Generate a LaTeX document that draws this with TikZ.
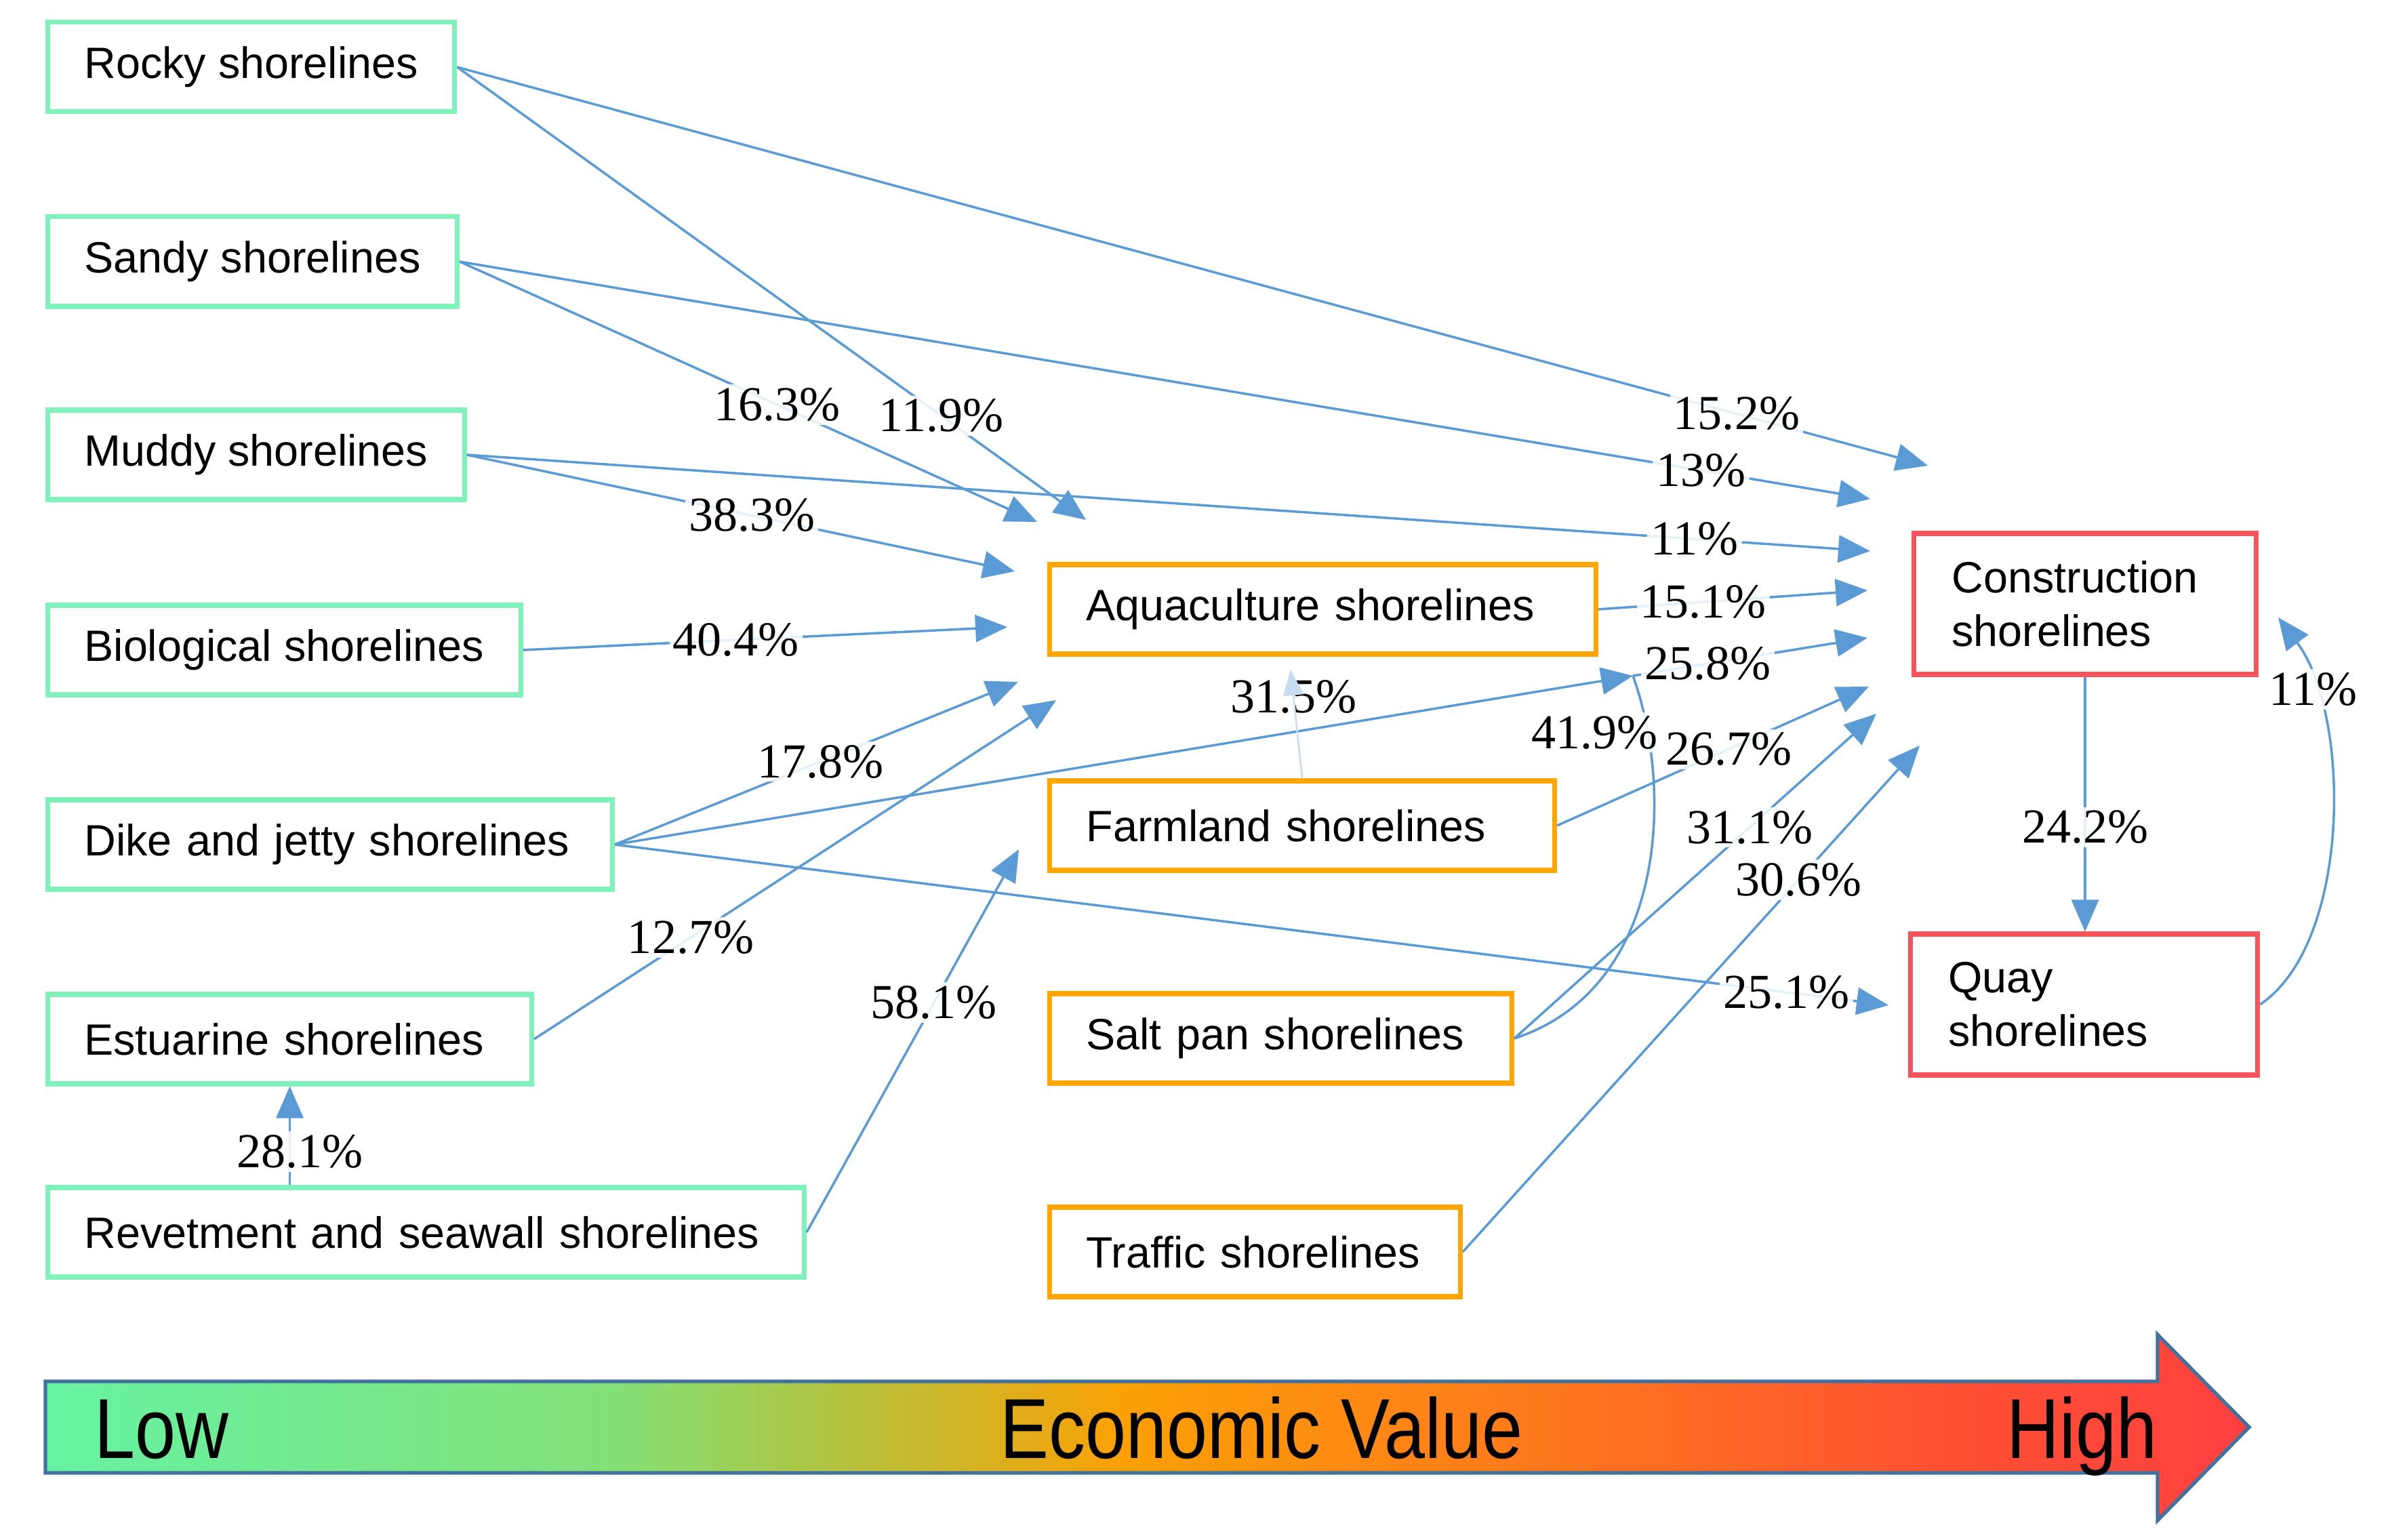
\documentclass[tikz,border=0pt]{standalone}
\usepackage{fontspec}
\setmainfont{Liberation Serif}
\setsansfont{Liberation Sans}
\usepackage{graphicx}
\usetikzlibrary{arrows.meta,calc,positioning}
\definecolor{lowgreen}{HTML}{7FF2B9}
\definecolor{midorange}{HTML}{FFA500}
\definecolor{highred}{HTML}{F5555A}
\definecolor{linkblue}{HTML}{5B9BD5}
\definecolor{barblue}{HTML}{41719C}
\pgfdeclarehorizontalshading{ecovalue}{100bp}{rgb(0bp)=(0.40,0.95,0.64); rgb(25bp)=(0.40,0.95,0.64); rgb(37.8bp)=(0.51,0.88,0.47); rgb(43.2bp)=(0.71,0.76,0.24); rgb(49.4bp)=(0.98,0.63,0.02); rgb(57.8bp)=(1,0.49,0.10); rgb(68.5bp)=(1,0.31,0.20); rgb(75bp)=(1,0.25,0.25); rgb(100bp)=(1,0.25,0.25)}
\newcommand{\ecofont}{\sffamily\fontsize{35.7}{36}\selectfont}
\tikzstyle{shore} = [draw, line width=2pt, fill=white, anchor=west, align=left,
minimum height=1.32cm, inner xsep=0.54cm, font=\sffamily\fontsize{18.4}{22.4}\selectfont]
\tikzstyle{lowbox} = [shore, draw=lowgreen]
\tikzstyle{midbox} = [shore, draw=midorange]
\tikzstyle{highbox} = [shore, draw=highred, minimum height=2.08cm, inner xsep=0.56cm]
\tikzstyle{link} = [line width=1pt, draw=linkblue]
\tikzstyle{arrow} = [link, -{Triangle[length=0.47cm,width=0.40cm]}]
\tikzstyle{palearrow} = [line width=0.7pt, draw=linkblue!35, -{Triangle[length=0.38cm,width=0.30cm]}]
\tikzstyle{pct} = [fill=white, fill opacity=0.85, text opacity=1, inner sep=1.5pt,
font=\fontsize{20.5}{20.5}\selectfont]

\begin{document}
\begin{tikzpicture}
            \useasboundingbox (0,0) rectangle (35.2,22.71);
            % shoreline types, low to high value
            \node[lowbox] (rocky) at (0.67,21.72) {Rocky shorelines};
            \node[lowbox] (sandy) at (0.67,18.85) {Sandy shorelines};
            \node[lowbox] (muddy) at (0.67,16.00) {Muddy shorelines};
            \node[lowbox] (bio) at (0.67,13.12) {Biological shorelines};
            \node[lowbox, text width=7.25cm] (dike) at (0.67,10.25) {Dike and jetty shorelines};
            \node[lowbox, text width=6.06cm] (estu) at (0.67,7.38) {Estuarine shorelines};
            \node[lowbox, text width=10.08cm] (revet) at (0.67,4.53) {Revetment and seawall shorelines};
            \node[midbox, text width=6.98cm] (aqua) at (15.45,13.72) {Aquaculture shorelines};
            \node[midbox, text width=6.37cm] (farm) at (15.45,10.53) {Farmland shorelines};
            \node[midbox, text width=5.74cm] (salt) at (15.45,7.39) {Salt pan shorelines};
            \node[midbox, text width=4.98cm] (traffic) at (15.45,4.24) {Traffic shorelines};
            \node[highbox, text width=3.93cm] (constr) at (28.20,13.80) {Construction\\shorelines};
            \node[highbox, text width=4.0cm] (quay) at (28.15,7.89) {Quay\\shorelines};
            % free arrow ends
            \coordinate (tRA) at (16.02,15.04);
            \coordinate (tSA) at (15.30,15.01);
            \coordinate (tMA) at (14.97,14.28);
            \coordinate (tBA) at (14.86,13.46);
            \coordinate (tDA) at (15.02,12.65);
            \coordinate (tEA) at (15.58,12.38);
            \coordinate (tRF) at (15.03,10.18);
            \coordinate (tRC) at (28.44,15.84);
            \coordinate (tSC) at (27.59,15.35);
            \coordinate (tMC) at (27.59,14.58);
            \coordinate (tAC) at (27.55,14.00);
            \coordinate (p) at (24.09,12.74);
            \coordinate (tPC) at (27.55,13.30);
            \coordinate (tFC) at (27.57,12.58);
            \coordinate (tSpC) at (27.68,12.18);
            \coordinate (tTC) at (28.32,11.71);
            \coordinate (tDQ) at (27.86,7.88);
            \coordinate (t315) at (19.04,12.83);
            \coordinate (tQC) at (33.61,13.60);
            % transitions
            \draw[arrow] (rocky.east) -- node[pct,pos=0.87] {15.2\%} (tRC);
            \draw[arrow] (rocky.east) -- node[pct,pos=0.77] {11.9\%} (tRA);
            \draw[arrow] (sandy.east) -- node[pct,pos=0.88] {13\%} (tSC);
            \draw[arrow] (sandy.east) -- node[pct,pos=0.55] {16.3\%} (tSA);
            \draw[arrow] (muddy.east) -- node[pct,pos=0.875] {11\%} (tMC);
            \draw[arrow] (muddy.east) -- node[pct,pos=0.52] {38.3\%} (tMA);
            \draw[arrow] (bio.east) -- node[pct,pos=0.44] {40.4\%} (tBA);
            \draw[arrow] (aqua.east) -- node[pct,pos=0.39] {15.1\%} (tAC);
            \draw[arrow] (dike.east) -- node[pct,pos=0.51] {17.8\%} (tDA);
            \draw[arrow] (dike.east) -- (p);
            \draw[arrow] (p) -- node[pct,pos=0.32] {25.8\%} (tPC);
            \draw[arrow] (dike.east) -- node[pct,pos=0.92] {25.1\%} (tDQ);
            \draw[arrow] (estu.east) -- node[pct,pos=0.30] {12.7\%} (tEA);
            \draw[arrow] (revet.east) -- node[pct,pos=0.6] {58.1\%} (tRF);
            \draw[arrow] (estu.south |- revet.north) -- node[pct,pos=0.34,xshift=0.15cm] {28.1\%} (estu.south);
            \draw[arrow] (farm.east) -- node[pct,pos=0.55] {26.7\%} (tFC);
            \draw[arrow] (salt.east) -- node[pct,pos=0.65] {31.1\%} (tSpC);
            \draw[arrow] (traffic.east) -- node[pct,pos=0.735] {30.6\%} (tTC);
            \draw[link] (salt.east) .. controls (24.58,8.12) and (24.70,11.04) ..
            node[pct,pos=0.85,xshift=-0.79cm] {41.9\%} (p);
            \path (farm.north) -- node[pct,pos=0.75] {31.5\%} (t315);
            \draw[palearrow] (farm.north) -- (t315);
            \draw[arrow] (constr.south) -- node[pct,pos=0.59] {24.2\%} (constr.south |- quay.north);
            \draw[arrow] (quay.east) .. controls (34.69,8.79) and (34.69,12.16) ..
            node[pct,pos=0.8] {11\%} (tQC);
            % value scale
            \shadedraw[shading=ecovalue, draw=barblue, line width=1.5pt]
            (0.67,2.33) -- (31.83,2.33) -- (31.83,3.02) -- (33.18,1.655)
            -- (31.83,0.28) -- (31.83,0.98) -- (0.67,0.98) -- cycle;
            \node[anchor=base west, inner sep=0pt] (low) at (1.39,1.20) {\scalebox{0.86}[1]{\ecofont Low}};
            \node[anchor=base, inner sep=0pt] (eco) at (18.61,1.20) {\scalebox{0.86}[1]{\ecofont Economic Value}};
            \node[anchor=base east, inner sep=0pt] (high) at (31.83,1.20) {\scalebox{0.86}[1]{\ecofont High}};
        \end{tikzpicture}
\end{document}
